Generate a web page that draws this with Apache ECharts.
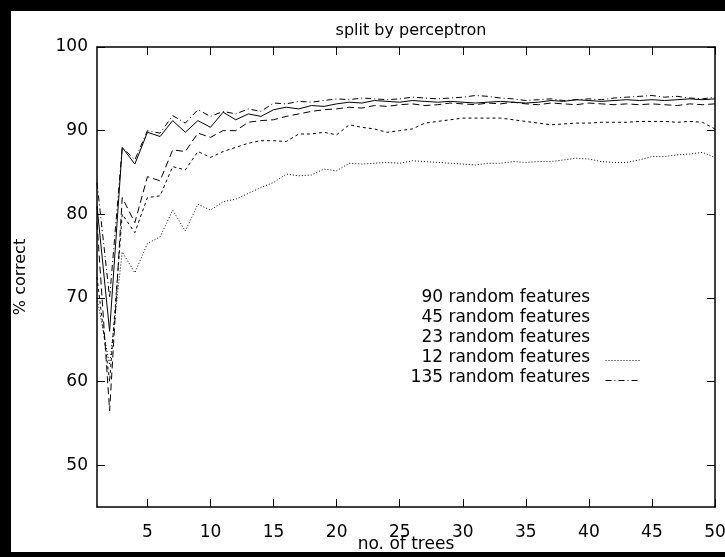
<!DOCTYPE html>
<html>
<head>
<meta charset="utf-8">
<script src="https://cdn.jsdelivr.net/npm/echarts@6/dist/echarts.min.js"></script>
<style>
html,body{margin:0;padding:0;background:#000;width:725px;height:557px;overflow:hidden;}
#chart{position:absolute;left:11px;top:11px;width:714px;height:541px;background:#fff;}
</style>
</head>
<body>
<div id="chart"></div>
<script>
const trees = [1,2,3,4,5,6,7,8,9,10,11,12,13,14,15,16,17,18,19,20,21,22,23,24,25,26,27,28,29,30,31,32,33,34,35,36,37,38,39,40,41,42,43,44,45,46,47,48,49,50];
const xTicks = [5,10,15,20,25,30,35,40,45,50];
const yTicks = [50,60,70,80,90,100];
const seriesNames = ['90 random features','45 random features','23 random features','12 random features','135 random features'];

const f90 = [81,66,88,86,89.8,89.3,91.2,89.8,91.2,90.4,92.2,91.3,92,91.7,92.5,92.8,92.6,93.0,92.9,93.2,93.4,93.3,93.6,93.5,93.4,93.6,93.5,93.4,93.5,93.4,93.3,93.4,93.5,93.4,93.3,93.4,93.6,93.5,93.7,93.6,93.5,93.6,93.7,93.6,93.7,93.6,93.7,93.8,93.7,93.8];
const f45 = [79,56.5,82,79,84.5,84,87.7,87.5,89.7,89.2,90,90,91,91.2,91.3,91.7,92,92.3,92.5,92.6,92.8,92.7,93,92.9,93.1,93.2,93,93.1,93.3,93.2,93.1,93.3,93.2,93.4,93.2,93.1,93.3,93.2,93.1,93.3,93.2,93.1,93.2,93.1,93.2,93.1,93,93.2,93.1,93.2];
const f23 = [72.5,60,80,77.8,82,82.2,85.7,85.3,87.5,86.8,87.5,88,88.5,88.8,88.8,88.7,89.6,89.6,89.8,89.5,90.7,90.4,90.2,89.8,90.0,90.2,90.9,91.1,91.3,91.5,91.5,91.5,91.5,91.3,91.1,90.9,90.7,90.8,90.9,90.9,91.0,91.0,91.0,91.1,91.1,91.1,91.0,91.1,91.0,90.2];
const f12 = [70,62,75.5,73,76.5,77.3,80.5,78,81.2,80.5,81.5,81.8,82.5,83.2,83.8,84.8,84.6,84.7,85.4,85.2,86.1,86.0,86.1,86.2,86.1,86.4,86.3,86.2,86.1,86.0,85.9,86.1,86.1,86.3,86.2,86.3,86.3,86.5,86.7,86.6,86.3,86.2,86.2,86.5,86.9,86.9,87.1,87.2,87.4,86.8];
const f135 = [83.8,70,88,86.5,90,89.7,91.8,90.9,92.5,91.7,92.3,92,92.6,92.3,93.3,93.2,93.5,93.4,93.6,93.8,93.7,93.9,93.8,93.7,93.8,94,93.9,93.8,93.9,94,94.2,94.1,93.9,93.8,93.6,93.7,93.8,93.6,93.7,93.8,93.7,93.9,94,94.1,94.2,94,94.1,93.9,93.8,94];

const allValues = [f90, f45, f23, f12, f135];
const dashes = ['solid', [7,4], [3,3], [1,2], [6,3,1,3]];
const legendShowSample = [false, false, false, true, true];

const FONT = 'DejaVu Sans';
const chart = echarts.init(document.getElementById('chart'), null, {renderer: 'canvas'});

const axisLineStyle = {color: '#000', width: 1.5};
function pairs(vals){ return trees.map((t,i)=>[t, vals[i]]); }

const series = allValues.map((vals, i) => ({
  name: seriesNames[i],
  type: 'line',
  data: pairs(vals),
  showSymbol: false,
  symbol: 'none',
  animation: false,
  lineStyle: {color: '#000', width: 1, type: dashes[i]},
  z: 3
}));

const legendGraphics = [];
const legendRight = 579, legendTop = 287, legendStep = 20;
seriesNames.forEach((n, i) => {
  legendGraphics.push({
    type: 'text', right: 714 - legendRight, top: legendTop + i*legendStep - 9,
    style: {text: n, font: '17px "' + FONT + '"', fill: '#000'}
  });
  if (legendShowSample[i]) {
    legendGraphics.push({
      type: 'line', left: 592, top: legendTop + i*legendStep,
      shape: {x1: 0, y1: 0, x2: 34, y2: 0},
      style: {stroke: '#000', lineWidth: 1, lineDash: dashes[i]}
    });
  }
});

chart.setOption({
  animation: false,
  backgroundColor: '#fff',
  title: {
    text: 'split by perceptron', left: 395, top: 7, textAlign: 'center',
    textStyle: {fontFamily: FONT, fontSize: 16, fontWeight: 'normal', color: '#000'}
  },
  grid: {left: 86, top: 36, right: 10, bottom: 45, containLabel: false, outerBoundsMode: 'none'},
  xAxis: [{
    type: 'value', min: 1, max: 50, position: 'bottom',
    name: 'no. of trees', nameLocation: 'middle', nameGap: 29, nameMoveOverlap: false,
    nameTextStyle: {fontFamily: FONT, fontSize: 17, color: '#000'},
    axisLine: {show: true, lineStyle: axisLineStyle},
    axisTick: {show: true, inside: true, length: 8, customValues: xTicks, lineStyle: {color: '#000', width: 1}},
    axisLabel: {customValues: xTicks, margin: 17, fontFamily: FONT, fontSize: 17, color: '#000'},
    splitLine: {show: false}
  }, {
    type: 'value', min: 1, max: 50, position: 'top',
    axisLine: {show: true, lineStyle: axisLineStyle},
    axisTick: {show: true, inside: true, length: 8, customValues: xTicks, lineStyle: {color: '#000', width: 1}},
    axisLabel: {show: false},
    splitLine: {show: false}
  }],
  yAxis: [{
    type: 'value', min: 45, max: 100, position: 'left',
    name: '% correct', nameLocation: 'middle', nameGap: 68, nameRotate: 90,
    nameTextStyle: {fontFamily: FONT, fontSize: 16, color: '#000'},
    axisLine: {show: true, lineStyle: axisLineStyle},
    axisTick: {show: true, inside: true, length: 8, customValues: yTicks, lineStyle: {color: '#000', width: 1}},
    axisLabel: {customValues: yTicks, margin: 9, fontFamily: FONT, fontSize: 17, color: '#000'},
    splitLine: {show: false}
  }, {
    type: 'value', min: 45, max: 100, position: 'right',
    axisLine: {show: true, lineStyle: axisLineStyle},
    axisTick: {show: true, inside: true, length: 8, customValues: yTicks, lineStyle: {color: '#000', width: 1}},
    axisLabel: {show: false},
    splitLine: {show: false}
  }],
  graphic: legendGraphics,
  series: series
});
</script>
</body>
</html>
